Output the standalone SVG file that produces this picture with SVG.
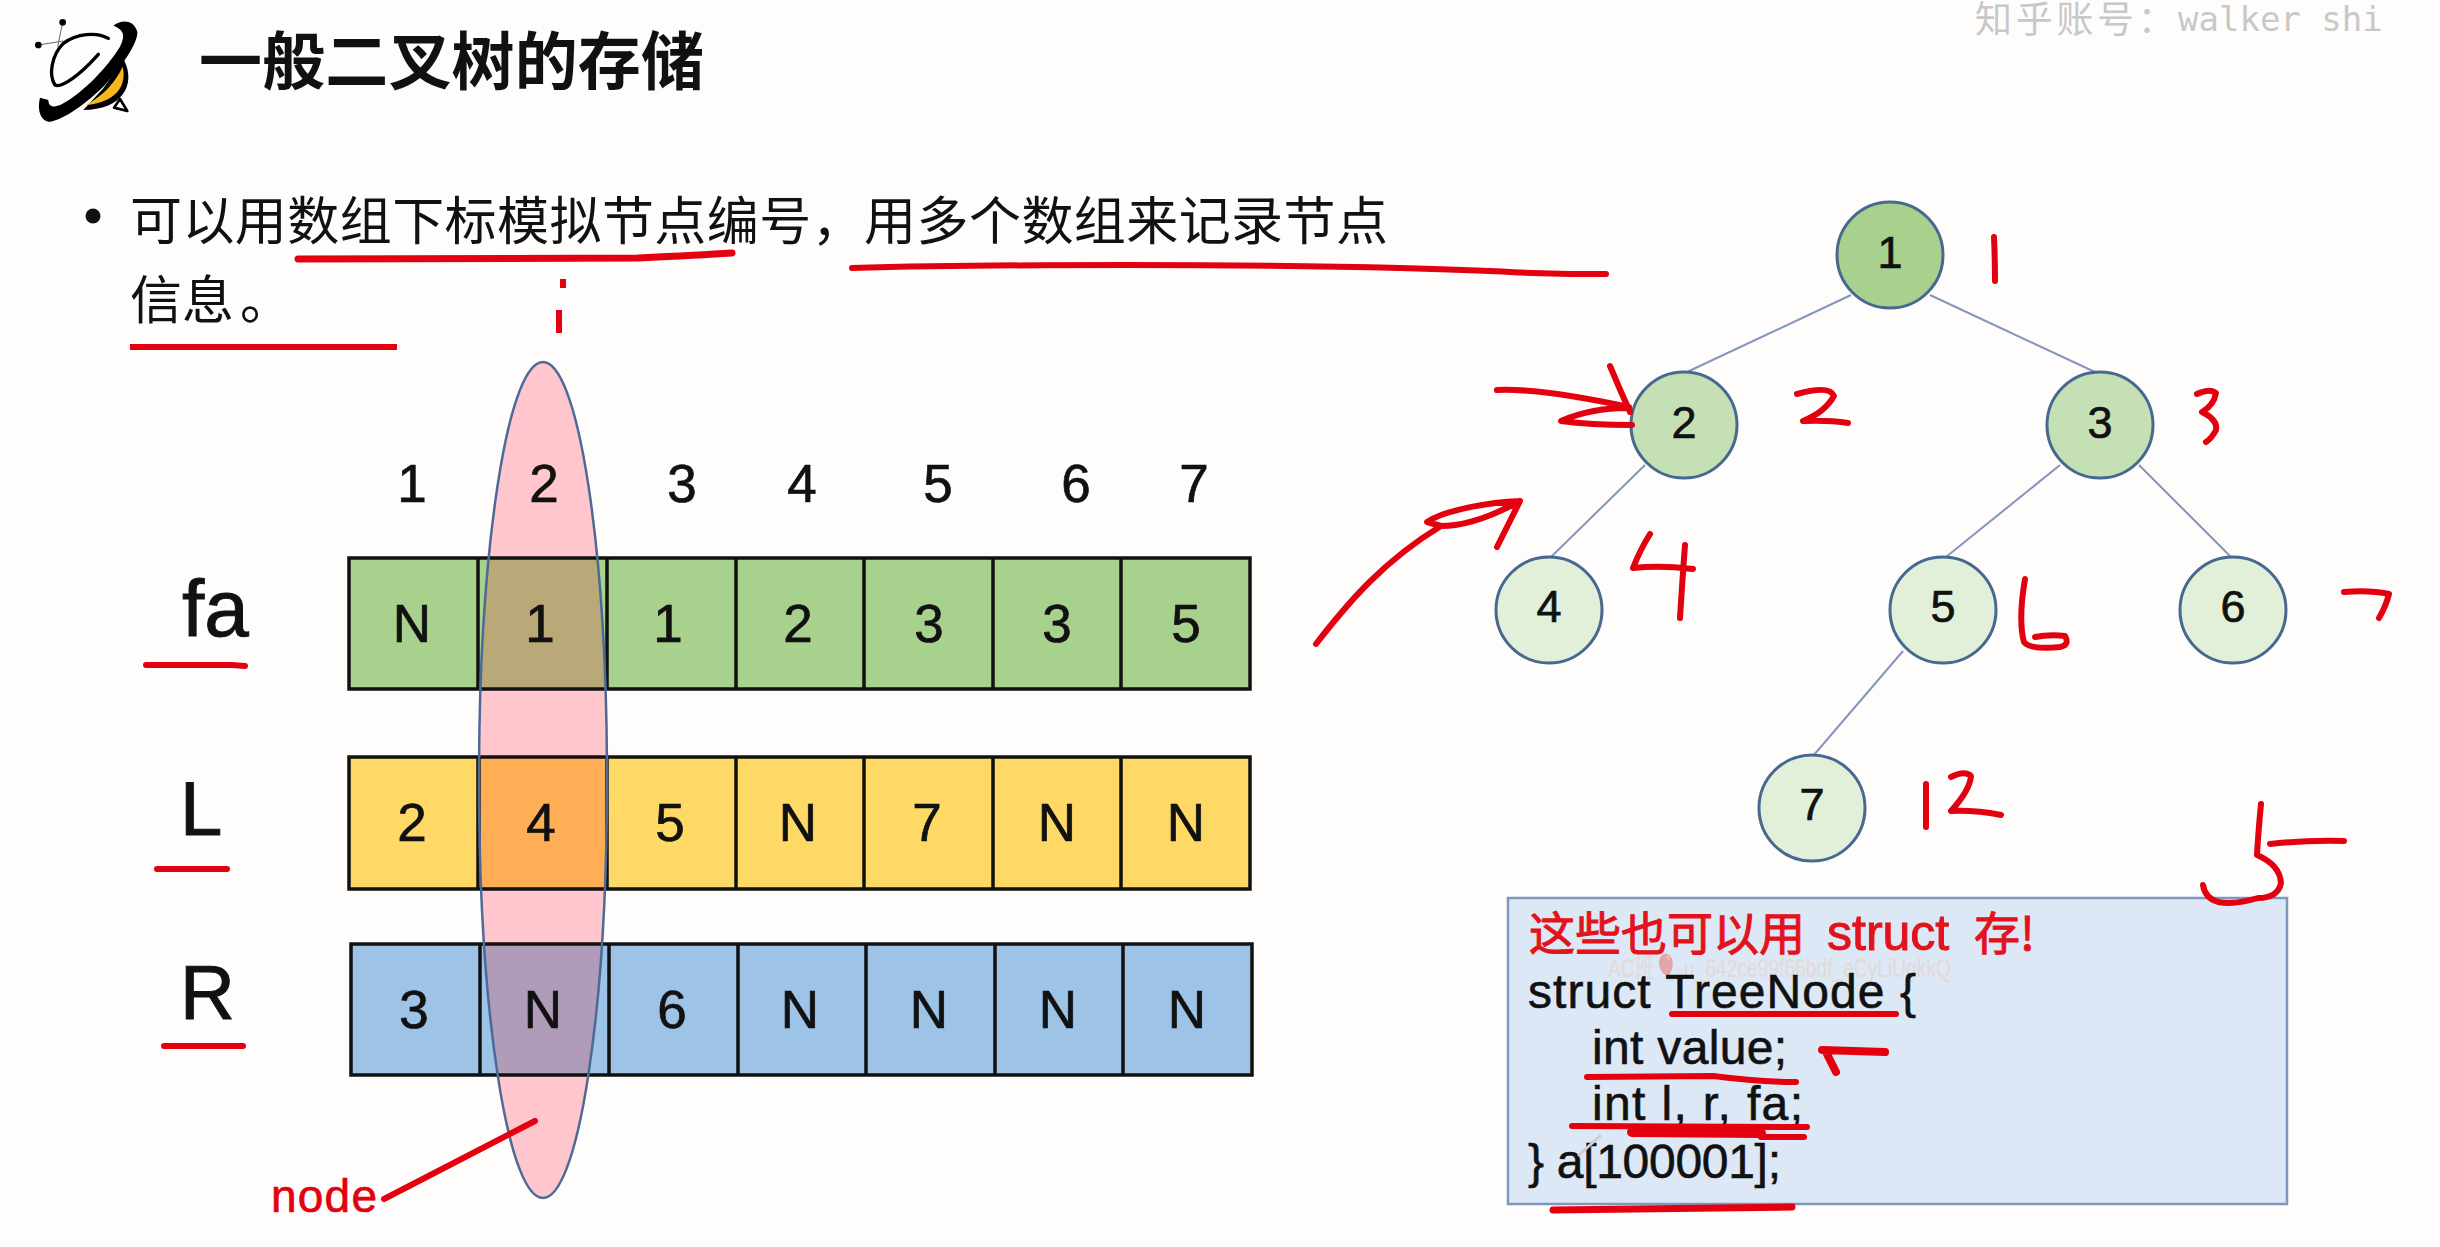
<svg xmlns="http://www.w3.org/2000/svg" width="2440" height="1247" viewBox="0 0 2440 1247">
<style>
text{font-family:"Liberation Sans","Noto Sans CJK SC",sans-serif;fill:#111}
.cjk{font-family:"Noto Sans CJK SC",sans-serif}
.c{font-size:53px;text-anchor:middle;stroke:#111;stroke-width:.7}
.lab{font-size:76px;stroke:#111;stroke-width:1}
.code{font-size:48px;stroke:#111;stroke-width:.6}
.ink{fill:none;stroke:#e3000f;stroke-width:6;stroke-linecap:round;stroke-linejoin:round}
.cell{stroke:#111;stroke-width:3.5;fill:none}
.edge{stroke:#8496bb;stroke-width:2;fill:none}
.n{stroke:#47688f;stroke-width:3}
.nt{font-size:45px;text-anchor:middle;stroke:#111;stroke-width:.7}
</style>
<defs>
<clipPath id="oval"><ellipse cx="543" cy="780" rx="64" ry="418"/></clipPath>
</defs>
<rect width="2440" height="1247" fill="#fefdfc"/>

<g id="logo" transform="translate(20,5) scale(.3333)">
<path d="M312,165C350,240,305,315,190,315L250,250Z" fill="#000"/>
<path d="M308,185C322,245,285,292,198,300C250,270,285,235,308,185Z" fill="#f5b81f"/>
<path d="M300,282L322,318L282,308Z" fill="#fff" stroke="#000" stroke-width="8" stroke-linejoin="round"/>
<path d="M280,62C300,45,340,40,352,80C355,115,300,190,255,240C200,295,130,345,90,350C65,350,50,320,60,278L85,285C85,305,100,310,125,298C190,262,260,190,300,125C315,95,315,75,280,62Z" fill="#000"/>
<path d="M265,100C230,80,170,85,130,115C95,150,85,210,105,240C125,250,180,210,235,148" fill="none" stroke="#000" stroke-width="10" stroke-linecap="round"/>
<path d="M128,52L113,125M55,120L130,108" stroke="#666" stroke-width="3" fill="none"/>
<circle cx="128" cy="52" r="10" fill="#000"/><circle cx="55" cy="120" r="10" fill="#000"/>
</g>

<text class="cjk" x="199" y="84" font-size="63" font-weight="700" textLength="505">一般二叉树的存储</text>
<text x="1975" y="33" style="fill:#c8c8c8"><tspan class="cjk" font-size="37" letter-spacing="3.7">知乎账号：</tspan><tspan x="2178" y="31" font-size="34" style="font-family:'DejaVu Sans Mono',monospace">walker shi</tspan></text>

<circle cx="93" cy="216" r="7.5" fill="#111"/>
<text class="cjk" x="130" y="240" font-size="52" textLength="1258">可以用数组下标模拟节点编号，用多个数组来记录节点</text>
<text class="cjk" x="130" y="319" font-size="52">信息<tspan dx="6">。</tspan></text>

<g id="table-fa">
<rect x="349" y="558" width="901" height="131" fill="#a9d18e"/>
<path class="cell" d="M349,558H1250V689H349ZM478,558V689M607,558V689M736,558V689M864,558V689M993,558V689M1121,558V689"/>
</g>
<g id="table-L">
<rect x="349" y="757" width="901" height="132" fill="#ffd966"/>
<path class="cell" d="M349,757H1250V889H349ZM478,757V889M607,757V889M736,757V889M864,757V889M993,757V889M1121,757V889"/>
</g>
<g id="table-R">
<rect x="351" y="944" width="901" height="131" fill="#9dc3e6"/>
<path class="cell" d="M351,944H1252V1075H351ZM480,944V1075M609,944V1075M738,944V1075M866,944V1075M995,944V1075M1123,944V1075"/>
</g>

<g id="node-highlight">
<ellipse cx="543" cy="780" rx="64" ry="418" fill="#ffc7cd"/>
<g clip-path="url(#oval)">
<rect x="479" y="558" width="128" height="131" fill="#b9a878"/>
<rect x="479" y="757" width="128" height="132" fill="#ffae55"/>
<rect x="479" y="944" width="130" height="131" fill="#b09bb8"/>
<path class="cell" d="M479,558H607V689H479ZM479,757H607V889H479ZM479,944H609V1075H479Z"/>
</g>
<ellipse cx="543" cy="780" rx="64" ry="418" fill="none" stroke="#4d6a96" stroke-width="2.5"/>
</g>

<g id="indices">
<text class="c" x="412" y="502">1</text><text class="c" x="544" y="502">2</text><text class="c" x="682" y="502">3</text><text class="c" x="802" y="502">4</text><text class="c" x="938" y="502">5</text><text class="c" x="1076" y="502">6</text><text class="c" x="1194" y="502">7</text>
</g>
<g id="values">
<text class="c" x="412" y="642">N</text><text class="c" x="540" y="642">1</text><text class="c" x="668" y="642">1</text><text class="c" x="798" y="642">2</text><text class="c" x="929" y="642">3</text><text class="c" x="1057" y="642">3</text><text class="c" x="1186" y="642">5</text>
<text class="c" x="412" y="841">2</text><text class="c" x="541" y="841">4</text><text class="c" x="670" y="841">5</text><text class="c" x="798" y="841">N</text><text class="c" x="927" y="841">7</text><text class="c" x="1057" y="841">N</text><text class="c" x="1186" y="841">N</text>
<text class="c" x="414" y="1028">3</text><text class="c" x="543" y="1028">N</text><text class="c" x="672" y="1028">6</text><text class="c" x="800" y="1028">N</text><text class="c" x="929" y="1028">N</text><text class="c" x="1058" y="1028">N</text><text class="c" x="1187" y="1028">N</text>
</g>
<text class="lab" x="182" y="636" font-size="80" style="font-size:80px">fa</text>
<text class="lab" x="180" y="835">L</text>
<text class="lab" x="180" y="1019">R</text>
<text x="271" y="1212" font-size="46" textLength="106" style="fill:#e3000f;stroke:#e3000f;stroke-width:.7">node</text>

<g id="connectors">
<path class="edge" d="M1851,295L1687,372"/>
<path class="edge" d="M1930,295L2095,372"/>
<path class="edge" d="M1645,465L1551,557"/>
<path class="edge" d="M2060,465L1946,557"/>
<path class="edge" d="M2139,465L2231,557"/>
<path class="edge" d="M1903,651L1813,756"/>
</g>
<g id="n1"><circle class="n" cx="1890" cy="255" r="53" fill="#a9d18e"/><text class="nt" x="1890" y="268">1</text></g>
<g id="n2"><circle class="n" cx="1684" cy="425" r="53" fill="#c5e0b4"/><text class="nt" x="1684" y="438">2</text></g>
<g id="n3"><circle class="n" cx="2100" cy="425" r="53" fill="#c5e0b4"/><text class="nt" x="2100" y="438">3</text></g>
<g id="n4"><circle class="n" cx="1549" cy="610" r="53" fill="#e2f0d9"/><text class="nt" x="1549" y="622">4</text></g>
<g id="n5"><circle class="n" cx="1943" cy="610" r="53" fill="#e2f0d9"/><text class="nt" x="1943" y="622">5</text></g>
<g id="n6"><circle class="n" cx="2233" cy="610" r="53" fill="#e2f0d9"/><text class="nt" x="2233" y="622">6</text></g>
<g id="n7"><circle class="n" cx="1812" cy="808" r="53" fill="#e2f0d9"/><text class="nt" x="1812" y="820">7</text></g>

<g id="code-box">
<rect x="1508" y="898" width="779" height="306" fill="#dce8f6" stroke="#7f97bd" stroke-width="2.5"/>
<text class="cjk" y="950" font-size="46" style="fill:#e3121b;stroke:#e3121b;stroke-width:1"><tspan x="1529">这些也可以用</tspan><tspan x="1827" font-size="50" style="font-family:'Liberation Sans',sans-serif">struct</tspan><tspan x="1974">存!</tspan></text>
<text x="1608" y="977" font-size="26" textLength="343" lengthAdjust="spacingAndGlyphs" opacity=".4" style="fill:#f0c4a4">AC班🎈-u_642ce99f66bdf_eCyLiUgkkQ</text>
<text class="code" x="1528" y="1008" textLength="388">struct TreeNode {</text>
<text class="code" x="1592" y="1064" textLength="195">int value;</text>
<text class="code" x="1592" y="1120" textLength="211">int l, r, fa;</text>
<text class="code" x="1528" y="1178" textLength="253">} a[100001];</text>
</g>

<g id="annotations">
<path class="ink" style="stroke-width:7" d="M298,259L638,258Q700,255,732,253"/>
<path class="ink" d="M852,268C1000,264,1250,264,1400,268S1500,274,1606,274"/>
<path class="ink" style="stroke-linecap:butt" d="M130,347H397M563,279V288M559,310V333"/>
<path class="ink" d="M146,665H232L245,666M157,869H227M164,1046H243M384,1199L535,1121"/>
<path class="ink" d="M1994,237Q1995,260,1995,281"/>
<path class="ink" d="M1797,394Q1830,385,1834,396Q1825,412,1803,421Q1830,420,1848,423"/>
<path class="ink" d="M2197,394Q2210,388,2216,393Q2214,405,2202,412Q2218,420,2216,430Q2212,438,2206,442"/>
<path class="ink" d="M1650,534Q1640,550,1633,568Q1660,565,1693,569M1685,545Q1682,585,1680,618"/>
<path class="ink" d="M2025,579Q2018,620,2024,642Q2030,650,2060,647Q2070,645,2065,636Q2050,634,2035,637"/>
<path class="ink" d="M2344,592Q2370,590,2389,594Q2386,606,2379,618"/>
<path class="ink" d="M1926,784V827M1951,777Q1965,770,1971,776Q1970,790,1951,811Q1975,810,2001,815"/>
<path class="ink" d="M2261,804Q2258,835,2257,855Q2280,865,2281,883Q2278,898,2258,898Q2235,905,2218,902Q2205,898,2203,885M2270,844Q2305,840,2344,841"/>
<path class="ink" d="M1497,390Q1540,388,1629,407M1610,366Q1620,390,1630,412M1632,425Q1590,425,1561,421Q1590,408,1629,408"/>
<path class="ink" d="M1316,644C1350,600,1385,560,1441,526M1520,501L1497,547M1427,522C1445,510,1490,502,1520,501C1500,512,1470,526,1441,526Z"/>
<path class="ink" d="M1672,1014H1896"/>
<path class="ink" style="stroke-width:8" d="M1822,1050L1885,1052M1826,1052L1836,1072"/>
<path class="ink" d="M1587,1077L1713,1076Q1760,1082,1796,1082"/>
<path class="ink" d="M1572,1126L1807,1127"/>
<path class="ink" style="stroke-width:10" d="M1632,1132L1761,1133"/>
<path class="ink" d="M1761,1137H1804"/>
<path class="ink" style="stroke-width:7" d="M1553,1210L1792,1207"/>
<path d="M1601,1135L1578,1156" stroke="#cfcfcf" stroke-width="3" fill="none"/>
</g>
</svg>
